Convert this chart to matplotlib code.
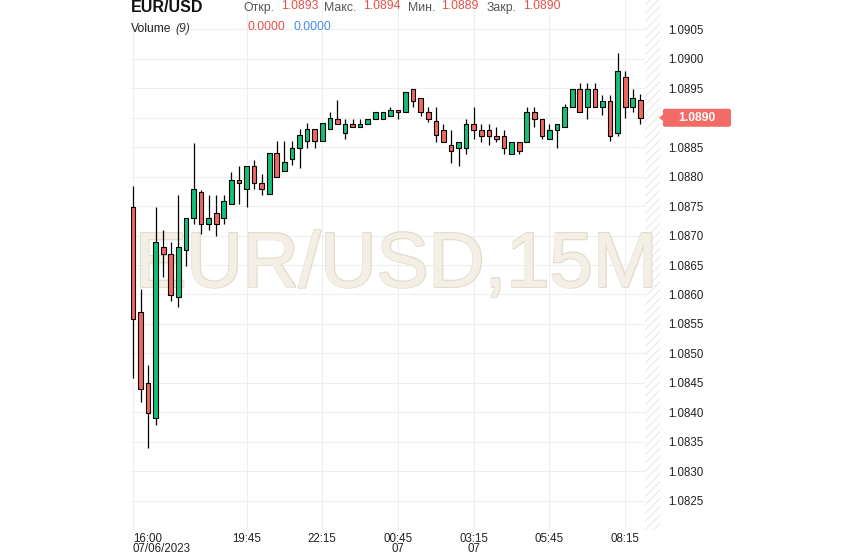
import matplotlib
matplotlib.use("Agg")
import matplotlib.pyplot as plt
import matplotlib.patheffects as pe
from matplotlib.patches import FancyBboxPatch, Polygon
import numpy as np

plt.rcParams['font.family'] = ['Liberation Sans', 'DejaVu Sans']
plt.rcParams['hatch.linewidth'] = 0.7

# ---- data (EUR/USD, 15 min candles) ----
opens = [1.08748, 1.08570, 1.08449, 1.08390, 1.08680, 1.08669, 1.08595, 1.08675, 1.08729, 1.08774,
         1.08719, 1.08739, 1.08729, 1.08754, 1.08795, 1.08779, 1.08818, 1.08790, 1.08770, 1.08840,
         1.08810, 1.08830, 1.08849, 1.08860, 1.08881, 1.08860, 1.08881, 1.08898, 1.08874, 1.08890,
         1.08885, 1.08890, 1.08898, 1.08898, 1.08903, 1.08914, 1.08909, 1.08949, 1.08934, 1.08909,
         1.08894, 1.08880, 1.08854, 1.08849, 1.08849, 1.08890, 1.08880, 1.08880, 1.08869, 1.08869,
         1.08839, 1.08859, 1.08859, 1.08909, 1.08898, 1.08864, 1.08880, 1.08884, 1.08918, 1.08949,
         1.08918, 1.08949, 1.08919, 1.08928, 1.08874, 1.08970, 1.08919, 1.08930]
highs = [1.08785, 1.08609, 1.08480, 1.08748, 1.08709, 1.08689, 1.08769, 1.08729, 1.08858, 1.08778,
         1.08769, 1.08769, 1.08769, 1.08808, 1.08818, 1.08818, 1.08829, 1.08805, 1.08840, 1.08860,
         1.08860, 1.08860, 1.08881, 1.08891, 1.08881, 1.08891, 1.08909, 1.08930, 1.08898, 1.08898,
         1.08898, 1.08898, 1.08909, 1.08909, 1.08919, 1.08914, 1.08944, 1.08949, 1.08934, 1.08919,
         1.08919, 1.08890, 1.08880, 1.08859, 1.08898, 1.08919, 1.08890, 1.08890, 1.08884, 1.08880,
         1.08859, 1.08859, 1.08918, 1.08918, 1.08898, 1.08890, 1.08890, 1.08924, 1.08949, 1.08959,
         1.08959, 1.08959, 1.08939, 1.08939, 1.09010, 1.08980, 1.08949, 1.08940]
lows = [1.08458, 1.08418, 1.08339, 1.08379, 1.08629, 1.08589, 1.08579, 1.08649, 1.08719, 1.08703,
        1.08709, 1.08699, 1.08719, 1.08754, 1.08754, 1.08748, 1.08779, 1.08769, 1.08770, 1.08800,
        1.08810, 1.08819, 1.08814, 1.08849, 1.08849, 1.08860, 1.08881, 1.08890, 1.08864, 1.08885,
        1.08885, 1.08890, 1.08898, 1.08898, 1.08903, 1.08898, 1.08909, 1.08919, 1.08903, 1.08893,
        1.08859, 1.08859, 1.08823, 1.08818, 1.08839, 1.08864, 1.08859, 1.08854, 1.08859, 1.08839,
        1.08839, 1.08839, 1.08859, 1.08884, 1.08864, 1.08864, 1.08849, 1.08884, 1.08918, 1.08909,
        1.08898, 1.08918, 1.08904, 1.08860, 1.08869, 1.08900, 1.08909, 1.08890]
closes = [1.08559, 1.08439, 1.08399, 1.08689, 1.08669, 1.08599, 1.08680, 1.08729, 1.08779, 1.08719,
          1.08729, 1.08719, 1.08759, 1.08795, 1.08790, 1.08818, 1.08790, 1.08779, 1.08840, 1.08800,
          1.08825, 1.08849, 1.08870, 1.08881, 1.08860, 1.08891, 1.08899, 1.08890, 1.08890, 1.08885,
          1.08890, 1.08898, 1.08909, 1.08909, 1.08914, 1.08909, 1.08944, 1.08929, 1.08909, 1.08898,
          1.08870, 1.08859, 1.08844, 1.08859, 1.08890, 1.08880, 1.08869, 1.08869, 1.08864, 1.08849,
          1.08859, 1.08844, 1.08909, 1.08898, 1.08869, 1.08880, 1.08890, 1.08918, 1.08949, 1.08909,
          1.08949, 1.08918, 1.08928, 1.08869, 1.08980, 1.08919, 1.08934, 1.08900]

tick_idx = [0, 15, 25, 35, 45, 55, 65]
tick_labels = ["16:00\n07/06/2023", "19:45", "22:15", "00:45\n07", "03:15\n07", "05:45", "08:15"]
price_ticks = [1.0825, 1.0830, 1.0835, 1.0840, 1.0845, 1.0850, 1.0855, 1.0860, 1.0865,
               1.0870, 1.0875, 1.0880, 1.0885, 1.0890, 1.0895, 1.0900, 1.0905]
last_price = 1.0890

# ---- figure ----
W, H = 844, 558
fig = plt.figure(figsize=(W / 100, H / 100), dpi=100)
ax = fig.add_axes([131 / W, 1 - 530 / H, 529 / W, 530 / H])
ax.set_xlim(-0.26, 69.6)
ax.set_ylim(1.0820, 1.0910)
for s in ax.spines.values():
    s.set_visible(False)

RED = '#f2675f'
GREEN = '#14bf78'

o = np.array(opens); h = np.array(highs); l = np.array(lows); c = np.array(closes)
x = np.arange(len(o))
cols = [GREEN if cc >= oo else RED for oo, cc in zip(o, c)]
ax.vlines(x, l, h, color='black', linewidth=0.9, zorder=3)
ax.bar(x, np.abs(c - o), bottom=np.minimum(o, c), width=0.62, color=cols,
       edgecolor='black', linewidth=0.8, zorder=4)

# grid / ticks
ax.set_xticks(tick_idx)
ax.set_xticklabels(tick_labels)
ax.set_yticks(price_ticks)
# the last-price tag covers the 1.0890 label, so that label is left blank
ax.set_yticklabels(["" if abs(p - last_price) < 1e-9 else f"{p:.4f}" for p in price_ticks])
ax.grid(True, color='#eeeeee', linewidth=0.8, zorder=0)
ax.set_axisbelow(True)
ax.yaxis.tick_right()
ax.tick_params(axis='y', length=0, pad=6, labelsize=8.3, labelcolor='#222222')
ax.tick_params(axis='x', length=0, pad=2, labelsize=8.3, labelcolor='#222222')
for t in ax.get_xticklabels():
    t.set_linespacing(0.85)
ax.get_xticklabels()[0].set_ha('left')

# hatched future zone
ax.axvspan(67.6, 69.6, facecolor='white', edgecolor='#e6e6e6', hatch='////',
           linewidth=0, zorder=1)

# watermark
ax.text(0.501, 0.459, "EUR/USD,15M", transform=ax.transAxes, ha='center', va='baseline',
        fontsize=56, family='Liberation Sans', color='#f2eee5', zorder=2,
        path_effects=[pe.withStroke(linewidth=1.8, foreground='#e2dccb')])
ax.text(0.501, 0.459, "EUR/USD,15M", transform=ax.transAxes, ha='center', va='baseline',
        fontsize=56, family='Liberation Sans', color='#f3efe6', zorder=2.1)

# header
def ftext(px, py, s, **kw):
    fig.text(px / W, 1 - py / H, s, va='center', ha='left', **kw)

ftext(131, 8, "EUR/USD", fontsize=11.5, fontweight='bold', color='#111111')
HG = '#555555'
HR = '#e5504a'
ftext(243, 8, "Откр.", fontsize=8.8, color=HG)
ftext(281, 6, "1.0893", fontsize=8.7, color=HR)
ftext(324, 8, "Макс.", fontsize=8.8, color=HG)
ftext(363, 6, "1.0894", fontsize=8.7, color=HR)
ftext(408, 8, "Мин.", fontsize=8.8, color=HG)
ftext(441, 6, "1.0889", fontsize=8.7, color=HR)
ftext(487, 8, "Закр.", fontsize=8.8, color=HG)
ftext(523, 6, "1.0890", fontsize=8.7, color=HR)
ftext(131, 29, "Volume", fontsize=8.7, color='#222222')
ftext(175, 29, "(9)", fontsize=8.7, color='#333333', style='italic')
ftext(248, 27, "0.0000", fontsize=8.7, color=HR)
ftext(294, 27, "0.0000", fontsize=8.7, color='#3f8df0')

# last price tag
yp = ax.transData.transform((0, last_price))[1]
ypx = H - yp
box = FancyBboxPatch((663 / W, 1 - (ypx + 9) / H), 68 / W, 18 / H,
                     boxstyle="round,pad=0,rounding_size=0.003",
                     transform=fig.transFigure, facecolor='#f36b66', edgecolor='none', zorder=5)
fig.add_artist(box)
tri = Polygon([(659 / W, 1 - ypx / H), (664 / W, 1 - (ypx - 4) / H), (664 / W, 1 - (ypx + 4) / H)],
              closed=True, transform=fig.transFigure, facecolor='#f36b66', edgecolor='none', zorder=5)
fig.add_artist(tri)
fig.text(697 / W, 1 - ypx / H, f"{last_price:.4f}", ha='center', va='center',
         fontsize=8.7, fontweight='bold', color='white', zorder=6)

fig.savefig("out.png", dpi=100)
